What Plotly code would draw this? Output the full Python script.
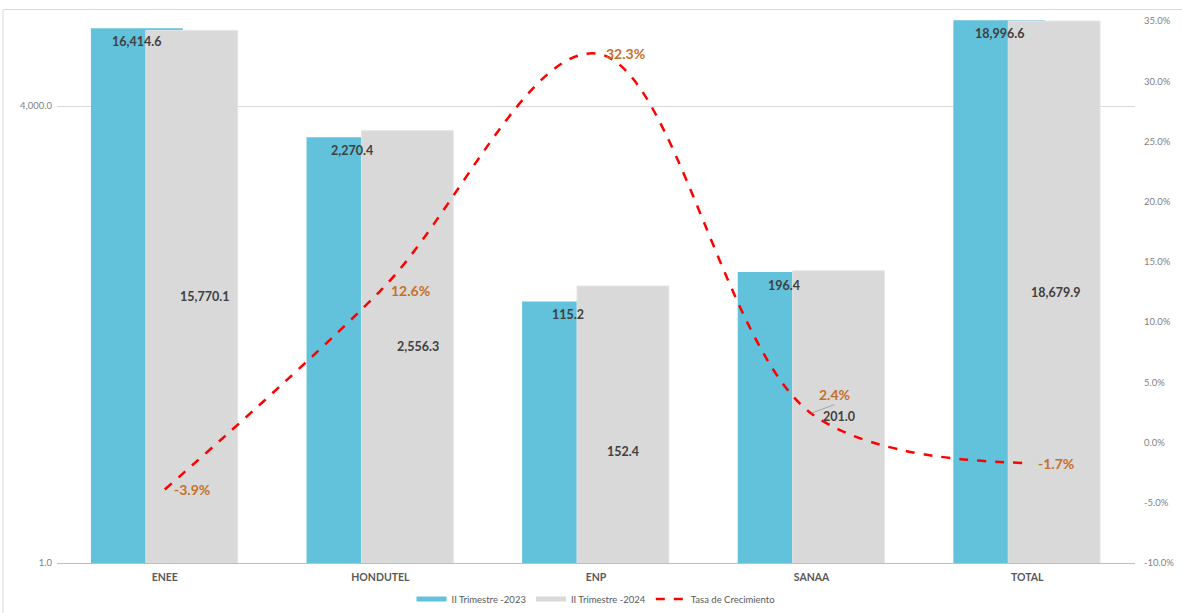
import math
import plotly.graph_objects as go

categories = ["ENEE", "HONDUTEL", "ENP", "SANAA", "TOTAL"]
q2_2023 = [16414.6, 2270.4, 115.2, 196.4, 18996.6]
q2_2024 = [15770.1, 2556.3, 152.4, 201.0, 18679.9]
growth = [-3.9, 12.6, 32.3, 2.4, -1.7]

left_ticks = [1, 4000]
left_ticktext = ["1.0", "4,000.0"]
right_ticks = [-10, -5, 0, 5, 10, 15, 20, 25, 30, 35]
right_ticktext = [f"{v:.1f}%" for v in right_ticks]

# label placement (styling, not data)
grey_label_y = [math.sqrt(q2_2024[0]), math.sqrt(q2_2024[1]), 7.5, 14.2, math.sqrt(q2_2024[4])]
grey_label_dx = [40, 38, 27, 27, 28]
pct_label_dx = [27, 30, 29, 23, 29]
pct_label_dy = [0, 0, 0, 19, 0]

BLUE = "#62C1DB"
GREY = "#D9D9D9"
RED = "#FF0000"
ORANGE = "#C5702A"
FONT = "Lato, Carlito, Calibri, sans-serif"

bar_w = 92 / 216.0

fig = go.Figure()
fig.add_trace(go.Bar(x=categories, y=q2_2023, width=bar_w, offset=-74 / 216.0,
                     marker=dict(color=BLUE, line=dict(width=0)), showlegend=False))
fig.add_trace(go.Bar(x=categories, y=q2_2024, width=bar_w, offset=-19 / 216.0,
                     marker=dict(color=GREY, line=dict(color="#E4E4E4", width=1)), showlegend=False))
fig.add_trace(go.Scatter(x=categories, y=growth, yaxis="y2", mode="lines",
                         line=dict(color=RED, width=2.5, dash="dash", shape="spline", smoothing=1.0),
                         showlegend=False))

# legend proxies
fig.add_trace(go.Scatter(x=[None], y=[None], mode="lines", name="II Trimestre -2023",
                         line=dict(color=BLUE, width=5)))
fig.add_trace(go.Scatter(x=[None], y=[None], mode="lines", name="II Trimestre -2024",
                         line=dict(color=GREY, width=5)))
fig.add_trace(go.Scatter(x=[None], y=[None], mode="lines", name="Tasa de Crecimiento",
                         line=dict(color=RED, width=2.5, dash="dash")))

ann = []
for i, c in enumerate(categories):
    ann.append(dict(x=c, y=math.log10(q2_2023[i]), xref="x", yref="y", text=f"{q2_2023[i]:,.1f}",
                    showarrow=False, xshift=-28, yshift=-13,
                    font=dict(family=FONT, size=12.5, color="#404040", weight="bold")))
    ann.append(dict(x=c, y=math.log10(grey_label_y[i]), xref="x", yref="y", text=f"{q2_2024[i]:,.1f}",
                    showarrow=False, xshift=grey_label_dx[i],
                    font=dict(family=FONT, size=12.5, color="#404040", weight="bold")))
    ann.append(dict(x=c, y=growth[i], xref="x", yref="y2", text=f"{growth[i]:.1f}%",
                    showarrow=False, xshift=pct_label_dx[i], yshift=pct_label_dy[i],
                    font=dict(family=FONT, size=14, color=ORANGE, weight="bold")))

shapes = [
    dict(type="rect", xref="paper", yref="paper", x0=-0.0501, x1=1.2, y0=-0.3, y1=1.0193,
         line=dict(color="#D9D9D9", width=1), layer="below"),
    # leader line for SANAA 2024 label
    dict(type="line", xref="x", yref="y2", x0=3, y0=growth[3] + 0.05,
         x1=3 + 23 / 216.0, y1=growth[3] + 0.75, line=dict(color="#A6A6A6", width=1)),
]

fig.update_layout(
    width=1182, height=613,
    margin=dict(l=57, r=47, t=20, b=50),
    paper_bgcolor="white", plot_bgcolor="white",
    barmode="overlay",
    font=dict(family=FONT, color="#595959"),
    xaxis=dict(type="category", showline=True, linecolor="#BFBFBF", linewidth=1,
               ticks="", tickfont=dict(family=FONT, size=10.5, color="#595959", weight="bold"),
               range=[-0.5, 4.5], automargin=False, ticklabelstandoff=4),
    yaxis=dict(type="log", range=[0, 4.280], tickvals=left_ticks, ticktext=left_ticktext,
               showgrid=True, gridcolor="#D9D9D9", gridwidth=1, zeroline=False, automargin=False,
               ticks="", ticklabelstandoff=4, tickfont=dict(family=FONT, size=9.5, color="#7F7F7F")),
    yaxis2=dict(overlaying="y", side="right", range=[-10, 35.08], tickvals=right_ticks,
                ticktext=right_ticktext, showgrid=False, zeroline=False, ticks="", automargin=False,
                ticklabelstandoff=8, tickfont=dict(family=FONT, size=9.5, color="#7F7F7F")),
    legend=dict(orientation="h", x=0.5, xanchor="center", yref="container", y=0.023, yanchor="middle",
                font=dict(family=FONT, size=9.5, color="#595959"), itemwidth=30,
                bgcolor="rgba(0,0,0,0)"),
    annotations=ann,
    shapes=shapes,
)

fig.write_html("out.html")
